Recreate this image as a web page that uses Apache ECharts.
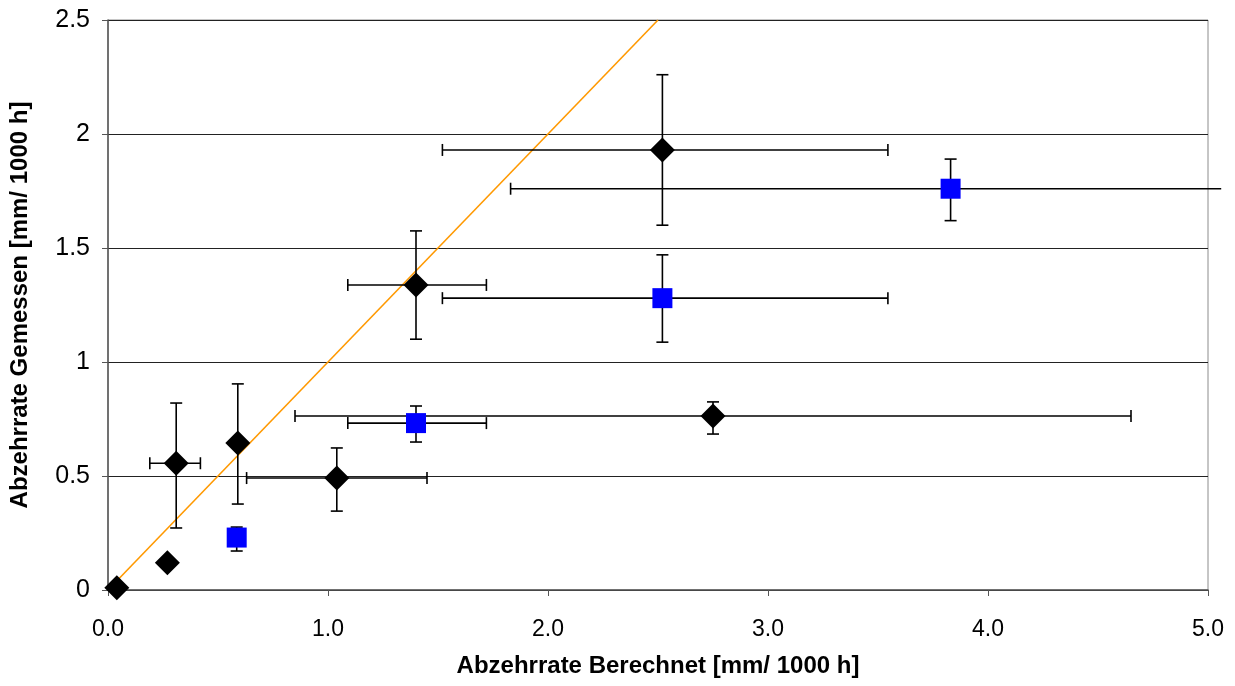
<!DOCTYPE html>
<html>
<head>
<meta charset="utf-8">
<script src="https://cdn.jsdelivr.net/npm/echarts@6/dist/echarts.min.js"></script>
<style>
  html, body { margin: 0; padding: 0; background: #fff; }
  #main { width: 1235px; height: 686px; }
</style>
</head>
<body>
<div id="main"></div>
<script>
// black diamonds
var diamondX     = [0.04, 0.27, 0.31, 0.59, 1.04, 1.40, 2.52, 2.75];
var diamondY     = [0.01, 0.12, 0.556, 0.645, 0.491, 1.338, 1.93, 0.763];
var diamondXLow  = [null, null, 0.19, null, 0.63, 1.09, 1.52, 0.85];
var diamondXHigh = [null, null, 0.42, null, 1.45, 1.72, 3.545, 4.65];
var diamondYLow  = [null, null, 0.272, 0.377, 0.346, 1.10, 1.60, 0.684];
var diamondYHigh = [null, null, 0.82, 0.904, 0.623, 1.575, 2.26, 0.825];

// blue squares
var squareX     = [0.585, 1.40, 2.52, 3.83];
var squareY     = [0.23, 0.732, 1.28, 1.76];
var squareXLow  = [null, 1.09, 1.52, 1.83];
var squareXHigh = [null, 1.72, 3.545, 5.06];
var squareYLow  = [0.171, 0.649, 1.087, 1.62];
var squareYHigh = [0.276, 0.807, 1.47, 1.89];

// reference line y = x
var refLine = [[0, 0], [2.5, 2.5]];

function pts(xs, ys) {
  return xs.map(function (x, i) { return [x, ys[i]]; });
}
function errRows(xs, ys, xl, xh, yl, yh) {
  return xs.map(function (x, i) { return [x, ys[i], xl[i], xh[i], yl[i], yh[i]]; });
}

var CAP = 6;
function renderErr(params, api) {
  var x = api.value(0), y = api.value(1);
  var xl = api.value(2), xh = api.value(3), yl = api.value(4), yh = api.value(5);
  var kids = [];
  var st = { stroke: '#000', lineWidth: 1.6 };
  if (!isNaN(yl) && yl !== null && !isNaN(yh)) {
    var a = api.coord([x, yl]), b = api.coord([x, yh]);
    kids.push({ type: 'line', shape: { x1: a[0], y1: a[1], x2: b[0], y2: b[1] }, style: st });
    kids.push({ type: 'line', shape: { x1: a[0] - CAP, y1: a[1], x2: a[0] + CAP, y2: a[1] }, style: st });
    kids.push({ type: 'line', shape: { x1: b[0] - CAP, y1: b[1], x2: b[0] + CAP, y2: b[1] }, style: st });
  }
  if (!isNaN(xl) && xl !== null && !isNaN(xh)) {
    var l = api.coord([xl, y]), r = api.coord([xh, y]);
    kids.push({ type: 'line', shape: { x1: l[0], y1: l[1], x2: r[0], y2: r[1] }, style: st });
    kids.push({ type: 'line', shape: { x1: l[0], y1: l[1] - CAP, x2: l[0], y2: l[1] + CAP }, style: st });
    if (xh <= 5) {
      kids.push({ type: 'line', shape: { x1: r[0], y1: r[1] - CAP, x2: r[0], y2: r[1] + CAP }, style: st });
    }
  }
  return { type: 'group', children: kids };
}

var myChart = echarts.init(document.getElementById('main'));
var font = 'Liberation Sans, Arial, sans-serif';

var option = {
  animation: false,
  backgroundColor: '#fff',
  grid: {
    left: 108, right: 27, top: 20, bottom: 96,
    show: true, borderColor: '#8c8c8c', borderWidth: 1
  },
  xAxis: {
    type: 'value', min: 0, max: 5, interval: 1,
    name: 'Abzehrrate Berechnet [mm/ 1000 h]',
    nameLocation: 'middle', nameGap: 64,
    nameTextStyle: { fontFamily: font, fontSize: 24, fontWeight: 'bold', color: '#000' },
    axisLine: { lineStyle: { color: '#555', width: 1.5 } },
    axisTick: { show: true, length: 6, lineStyle: { color: '#555' } },
    axisLabel: { fontFamily: font, fontSize: 23, color: '#000', margin: 28,
      formatter: function (v) { return v.toFixed(1); } },
    splitLine: { show: false }
  },
  yAxis: {
    type: 'value', min: 0, max: 2.5, interval: 0.5,
    name: 'Abzehrrate Gemessen [mm/ 1000 h]',
    nameLocation: 'middle', nameGap: 76,
    nameTextStyle: { fontFamily: font, fontSize: 24, fontWeight: 'bold', color: '#000' },
    axisLine: { show: true, lineStyle: { color: '#555', width: 1.5 } },
    axisTick: { show: true, length: 6, lineStyle: { color: '#555' } },
    axisLabel: { fontFamily: font, fontSize: 25, color: '#000', margin: 18 },
    splitLine: { show: true, lineStyle: { color: '#222', width: 1 } }
  },
  series: [
    {
      type: 'line', data: refLine, showSymbol: false, symbol: 'none',
      lineStyle: { color: '#FF9900', width: 1.6 }, z: 2
    },
    {
      type: 'custom', renderItem: renderErr, clip: false, z: 3,
      data: errRows(diamondX, diamondY, diamondXLow, diamondXHigh, diamondYLow, diamondYHigh),
      encode: { x: 0, y: 1 }
    },
    {
      type: 'custom', renderItem: renderErr, clip: false, z: 3,
      data: errRows(squareX, squareY, squareXLow, squareXHigh, squareYLow, squareYHigh),
      encode: { x: 0, y: 1 }
    },
    {
      type: 'scatter', data: pts(diamondX, diamondY), symbol: 'diamond', symbolSize: 25,
      itemStyle: { color: '#000', opacity: 1 }, z: 4
    },
    {
      type: 'scatter', data: pts(squareX, squareY), symbol: 'rect', symbolSize: 20,
      itemStyle: { color: '#0000FF', opacity: 1 }, z: 4
    }
  ]
};
myChart.setOption(option);
</script>
</body>
</html>
